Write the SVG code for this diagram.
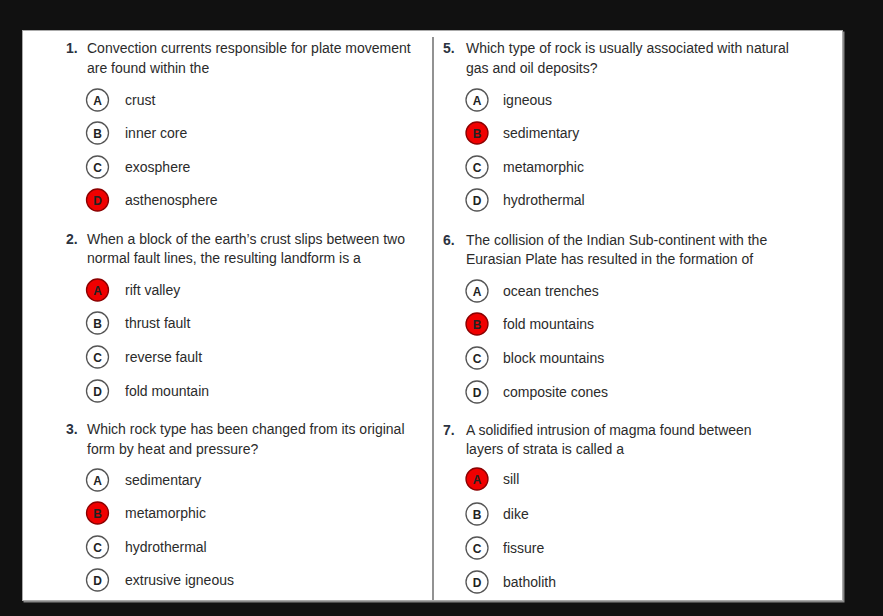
<svg xmlns="http://www.w3.org/2000/svg" width="883" height="616" viewBox="0 0 883 616">
<style>
.q{font-family:"Liberation Sans",Arial,sans-serif;font-size:14px;fill:#2b2b2b}
.n{font-family:"Liberation Sans",Arial,sans-serif;font-size:14px;font-weight:bold;fill:#2b3340}
.o{font-family:"Liberation Sans",Arial,sans-serif;font-size:14px;fill:#2b2b2b}
.c{fill:#fff;stroke:#555;stroke-width:1.3}
.r{fill:#f00000;stroke:#8a0000;stroke-width:1.3}
.l{font-family:"Liberation Sans",Arial,sans-serif;font-size:12px;font-weight:bold;fill:#222;text-anchor:middle}
</style>
<rect x="0" y="0" width="883" height="616" fill="#111"/>
<rect x="23.5" y="31.5" width="821" height="571" fill="#888"/>
<rect x="22.5" y="30.5" width="820" height="570" fill="#fff" stroke="#aaa" stroke-width="1"/>
<g id="connectors">
<line x1="433" y1="37" x2="433" y2="600" stroke="#777" stroke-width="1.6"/>
</g>
<g id="q1">
<text class="n" x="66" y="53">1.</text>
<text class="q" x="87" y="53">Convection currents responsible for plate movement</text>
<text class="q" x="87" y="73">are found within the</text>
<circle class="c" cx="97.5" cy="100" r="11"/><text class="l" x="97.5" y="104.5">A</text><text class="o" x="125" y="105">crust</text>
<circle class="c" cx="97.5" cy="133" r="11"/><text class="l" x="97.5" y="137.5">B</text><text class="o" x="125" y="138">inner core</text>
<circle class="c" cx="97.5" cy="167" r="11"/><text class="l" x="97.5" y="171.5">C</text><text class="o" x="125" y="172">exosphere</text>
<circle class="r" cx="97.5" cy="200" r="11"/><text class="l" x="97.5" y="204.5">D</text><text class="o" x="125" y="205">asthenosphere</text>
</g>
<g id="q2">
<text class="n" x="66" y="244">2.</text>
<text class="q" x="87" y="244">When a block of the earth’s crust slips between two</text>
<text class="q" x="87" y="263">normal fault lines, the resulting landform is a</text>
<circle class="r" cx="97.5" cy="290" r="11"/><text class="l" x="97.5" y="294.5">A</text><text class="o" x="125" y="295">rift valley</text>
<circle class="c" cx="97.5" cy="323" r="11"/><text class="l" x="97.5" y="327.5">B</text><text class="o" x="125" y="328">thrust fault</text>
<circle class="c" cx="97.5" cy="357" r="11"/><text class="l" x="97.5" y="361.5">C</text><text class="o" x="125" y="362">reverse fault</text>
<circle class="c" cx="97.5" cy="391" r="11"/><text class="l" x="97.5" y="395.5">D</text><text class="o" x="125" y="396">fold mountain</text>
</g>
<g id="q3">
<text class="n" x="66" y="434">3.</text>
<text class="q" x="87" y="434">Which rock type has been changed from its original</text>
<text class="q" x="87" y="454">form by heat and pressure?</text>
<circle class="c" cx="97.5" cy="480" r="11"/><text class="l" x="97.5" y="484.5">A</text><text class="o" x="125" y="485">sedimentary</text>
<circle class="r" cx="97.5" cy="513" r="11"/><text class="l" x="97.5" y="517.5">B</text><text class="o" x="125" y="518">metamorphic</text>
<circle class="c" cx="97.5" cy="547" r="11"/><text class="l" x="97.5" y="551.5">C</text><text class="o" x="125" y="552">hydrothermal</text>
<circle class="c" cx="97.5" cy="580" r="11"/><text class="l" x="97.5" y="584.5">D</text><text class="o" x="125" y="585">extrusive igneous</text>
</g>
<g id="q5">
<text class="n" x="443" y="53">5.</text>
<text class="q" x="466" y="53">Which type of rock is usually associated with natural</text>
<text class="q" x="466" y="73">gas and oil deposits?</text>
<circle class="c" cx="477" cy="100" r="11"/><text class="l" x="477" y="104.5">A</text><text class="o" x="503" y="105">igneous</text>
<circle class="r" cx="477" cy="133" r="11"/><text class="l" x="477" y="137.5">B</text><text class="o" x="503" y="138">sedimentary</text>
<circle class="c" cx="477" cy="167" r="11"/><text class="l" x="477" y="171.5">C</text><text class="o" x="503" y="172">metamorphic</text>
<circle class="c" cx="477" cy="200" r="11"/><text class="l" x="477" y="204.5">D</text><text class="o" x="503" y="205">hydrothermal</text>
</g>
<g id="q6">
<text class="n" x="443" y="245">6.</text>
<text class="q" x="466" y="245">The collision of the Indian Sub-continent with the</text>
<text class="q" x="466" y="264">Eurasian Plate has resulted in the formation of</text>
<circle class="c" cx="477" cy="291" r="11"/><text class="l" x="477" y="295.5">A</text><text class="o" x="503" y="296">ocean trenches</text>
<circle class="r" cx="477" cy="324" r="11"/><text class="l" x="477" y="328.5">B</text><text class="o" x="503" y="329">fold mountains</text>
<circle class="c" cx="477" cy="358" r="11"/><text class="l" x="477" y="362.5">C</text><text class="o" x="503" y="363">block mountains</text>
<circle class="c" cx="477" cy="392" r="11"/><text class="l" x="477" y="396.5">D</text><text class="o" x="503" y="397">composite cones</text>
</g>
<g id="q7">
<text class="n" x="443" y="435">7.</text>
<text class="q" x="466" y="435">A solidified intrusion of magma found between</text>
<text class="q" x="466" y="454">layers of strata is called a</text>
<circle class="r" cx="477" cy="479" r="11"/><text class="l" x="477" y="483.5">A</text><text class="o" x="503" y="484">sill</text>
<circle class="c" cx="477" cy="514" r="11"/><text class="l" x="477" y="518.5">B</text><text class="o" x="503" y="519">dike</text>
<circle class="c" cx="477" cy="548" r="11"/><text class="l" x="477" y="552.5">C</text><text class="o" x="503" y="553">fissure</text>
<circle class="c" cx="477" cy="582" r="11"/><text class="l" x="477" y="586.5">D</text><text class="o" x="503" y="587">batholith</text>
</g>
</svg>
